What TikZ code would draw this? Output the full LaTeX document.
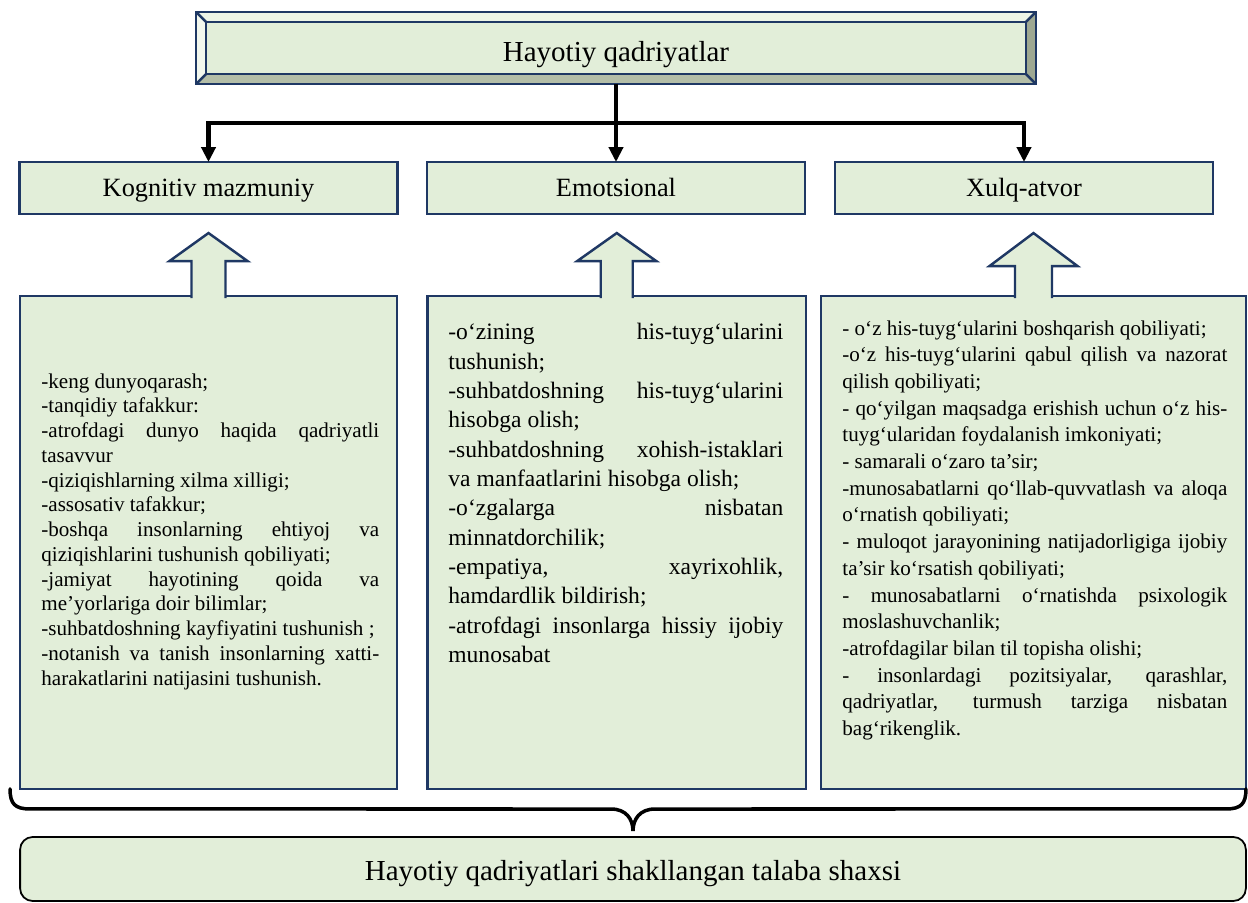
\documentclass[tikz,border=0pt]{standalone}
\usepackage{fontspec}
\setmainfont{Liberation Serif}
\usetikzlibrary{arrows.meta,calc,positioning}
\definecolor{navy}{RGB}{31,56,100}
\definecolor{lgreen}{RGB}{226,238,217}
\definecolor{bevtop}{RGB}{237,244,230}
\definecolor{bevleft}{RGB}{243,248,238}
\definecolor{bevbot}{RGB}{180,190,168}
\definecolor{bevright}{RGB}{158,168,146}
\newcommand\justtext{\hyphenpenalty=10000\relax\tolerance=10000\relax\hbadness=10000\relax}

\begin{document}
\begin{tikzpicture}[x=0.02cm,y=-0.02cm,
	box/.style={draw=navy,line width=1.4pt,fill=lgreen,inner sep=0pt,outer sep=0pt},
	headbox/.style={box,minimum width=7.57cm,minimum height=1.04cm,text height=10.2pt,text depth=0pt,font=\fontsize{15}{18}\selectfont},
	listbox/.style={box,minimum height=9.86cm},
	txt/.style={anchor=north west,inner sep=0pt},
	conn/.style={line width=2.5pt},
	blockarr/.style={draw=navy,line width=1.4pt,fill=lgreen,line join=miter},
	bracepath/.style={line width=2pt,line cap=round}]
	\useasboundingbox (0,0) rectangle (1248,903);
	% top box with bevel
	\node[box,minimum width=16.8cm,minimum height=1.44cm,text height=17pt,text depth=2.2pt,font=\fontsize{16.5}{20}\selectfont] (hayot) at (616,48) {Hayotiy qadriyatlar};
	\fill[bevtop] (hayot.north west) -- (hayot.north east) -- ($(hayot.north east)+(-10,10)$) -- ($(hayot.north west)+(10,10)$) -- cycle;
	\fill[bevleft] (hayot.north west) -- (hayot.south west) -- ($(hayot.south west)+(10,-10)$) -- ($(hayot.north west)+(10,10)$) -- cycle;
	\fill[bevbot] (hayot.south west) -- (hayot.south east) -- ($(hayot.south east)+(-10,-10)$) -- ($(hayot.south west)+(10,-10)$) -- cycle;
	\fill[bevright] (hayot.north east) -- (hayot.south east) -- ($(hayot.south east)+(-10,-10)$) -- ($(hayot.north east)+(-10,10)$) -- cycle;
	\draw[navy,line width=1.4pt] (hayot.north west) rectangle (hayot.south east);
	\draw[navy,line width=1.4pt] ($(hayot.north west)+(10,10)$) rectangle ($(hayot.south east)+(-10,-10)$);
	\draw[navy,line width=1.4pt] (hayot.north west) -- ++(10,10) (hayot.north east) -- ++(-10,10)
		(hayot.south west) -- ++(10,-10) (hayot.south east) -- ++(-10,-10);
	% headers
	\node[headbox] (kog) at (208.5,188) {Kognitiv mazmuniy};
	\node[headbox] (emo) at (616,188) {Emotsional};
	\node[headbox] (xulq) at (1024,188) {Xulq-atvor};
	\coordinate (hub) at (616,123);
	\draw[conn] (hayot.south) -- (hub);
	\draw[conn,-{Triangle[width=8pt,length=8.5pt]}] (hub) -| (kog.north);
	\draw[conn,-{Triangle[width=8pt,length=8.5pt]}] (hub) -- (emo.north);
	\draw[conn,-{Triangle[width=8pt,length=8.5pt]}] (hub) -| (xulq.north);
	% lists
	\node[listbox,minimum width=7.54cm] (kogbox) at (208.5,542.5) {};
	\node[listbox,minimum width=7.57cm] (emobox) at (616.75,542.5) {};
	\node[listbox,minimum width=8.5cm] (xulqbox) at (1033.5,542.5) {};
	\foreach \b/\hw/\sw/\hh in {kogbox/39/17/35, emobox/39.5/16/35, xulqbox/44/18.5/30}
		\filldraw[blockarr] ($(\b.north)+(-\sw,2)$) -- ($(\b.north)+(-\sw,-\hh)$) -- ($(\b.north)+(-\hw,-\hh)$)
			-- ($(\b.north)+(0,-63)$) -- ($(\b.north)+(\hw,-\hh)$) -- ($(\b.north)+(\sw,-\hh)$) -- ($(\b.north)+(\sw,2)$);
	\node[txt,font=\fontsize{12}{14.1}\selectfont] (kogtxt) at ($(kogbox.north west)+(21,77)$) {\parbox[t]{6.76cm}{\justtext
		-keng dunyoqarash;\par
		-tanqidiy tafakkur:\par
		-atrofdagi dunyo haqida qadriyatli \linebreak tasavvur\par
		-qiziqishlarning xilma xilligi;\par
		-assosativ tafakkur;\par
		-boshqa insonlarning ehtiyoj va \linebreak qiziqishlarini tushunish qobiliyati;\par
		-jamiyat hayotining qoida va \linebreak me’yorlariga doir bilimlar;\par
		-suhbatdoshning kayfiyatini tushunish ;\par
		-notanish va tanish insonlarning xatti-\linebreak harakatlarini natijasini tushunish.}};
	\node[txt,font=\fontsize{13.4}{16.7}\selectfont] (emotxt) at ($(emobox.north west)+(20.5,27)$) {\parbox[t]{6.7cm}{\justtext
		-o‘zining his-tuyg‘ularini \linebreak tushunish;\par
		-suhbatdoshning his-tuyg‘ularini \linebreak hisobga olish;\par
		-suhbatdoshning xohish-istaklari \linebreak va manfaatlarini hisobga olish;\par
		-o‘zgalarga nisbatan \linebreak minnatdorchilik;\par
		-empatiya, xayrixohlik, \linebreak hamdardlik bildirish;\par
		-atrofdagi insonlarga hissiy ijobiy \linebreak munosabat}};
	\node[txt,font=\fontsize{12}{15.2}\selectfont] (xulqtxt) at ($(xulqbox.north west)+(21,24)$) {\parbox[t]{7.7cm}{\justtext
		- o‘z his-tuyg‘ularini boshqarish qobiliyati;\par
		-o‘z his-tuyg‘ularini qabul qilish va nazorat \linebreak qilish qobiliyati;\par
		- qo‘yilgan maqsadga erishish uchun o‘z his-\linebreak tuyg‘ularidan foydalanish imkoniyati;\par
		- samarali o‘zaro ta’sir;\par
		-munosabatlarni qo‘llab-quvvatlash va aloqa \linebreak o‘rnatish qobiliyati;\par
		- muloqot jarayonining natijadorligiga ijobiy \linebreak ta’sir ko‘rsatish qobiliyati;\par
		- munosabatlarni o‘rnatishda psixologik \linebreak moslashuvchanlik;\par
		-atrofdagilar bilan til topisha olishi;\par
		- insonlardagi pozitsiyalar, qarashlar, \linebreak qadriyatlar, turmush tarziga nisbatan \linebreak bag‘rikenglik.}};
	% result
	\node[draw=black,line width=1pt,fill=lgreen,rounded corners=0.25cm,minimum width=24.52cm,minimum height=1.28cm,
		outer sep=0pt,text height=12.6pt,text depth=0pt,font=\fontsize{16.5}{20}\selectfont] (talaba) at (633,869) {Hayotiy qadriyatlari shakllangan talaba shaxsi};
	\coordinate (tip) at ($(talaba.north)+(0,-6)$);
	\draw[bracepath] ($(kogbox.south west)+(-10,0)$) .. controls +(0,15) and +(-15,0) .. ++(20,20)
		-- ($(tip)+(-22,-22)$) .. controls +(15,0) and +(0,-12) .. (tip)
		.. controls +(0,-12) and +(-15,0) .. ($(tip)+(22,-22)$)
		-- ($(xulqbox.south east)+(-20,20)$) .. controls +(15,0) and +(0,15) .. (xulqbox.south east);
\end{tikzpicture}
\end{document}
